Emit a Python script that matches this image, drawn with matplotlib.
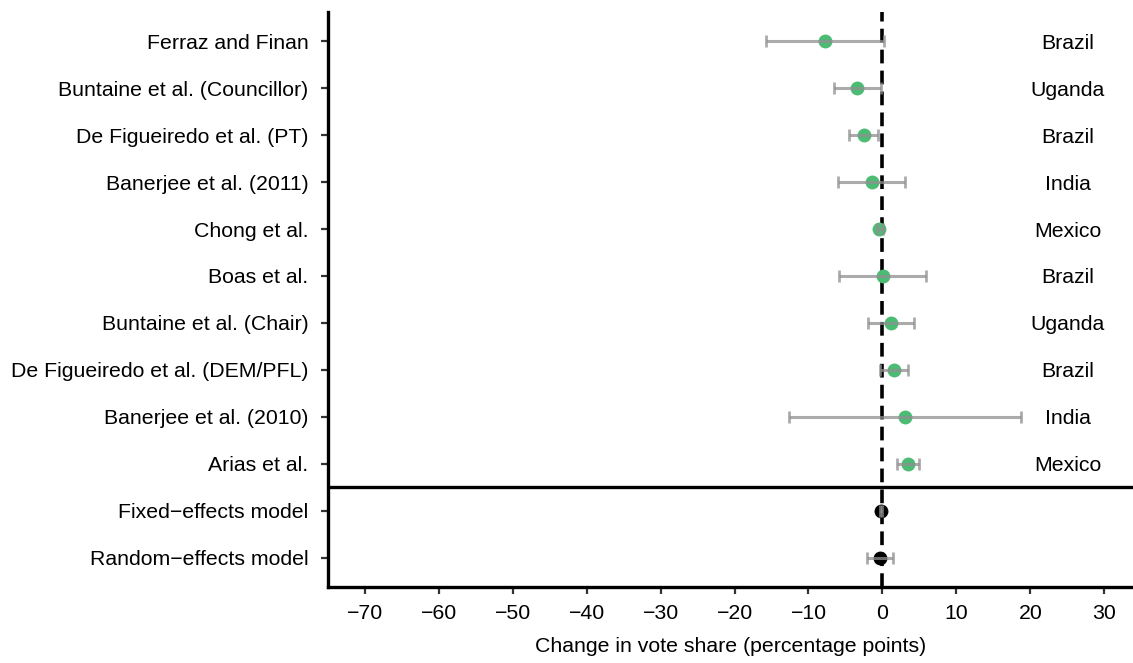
import matplotlib.pyplot as plt
import numpy as np

plt.rcParams['font.family'] = ['Liberation Sans', 'DejaVu Sans']

# study-level estimates (percentage points) with confidence bounds
studies = ['Ferraz and Finan', 'Buntaine et al. (Councillor)', 'De Figueiredo et al. (PT)',
           'Banerjee et al. (2011)', 'Chong et al.', 'Boas et al.', 'Buntaine et al. (Chair)',
           'De Figueiredo et al. (DEM/PFL)', 'Banerjee et al. (2010)', 'Arias et al.']
countries = ['Brazil', 'Uganda', 'Brazil', 'India', 'Mexico', 'Brazil', 'Uganda',
             'Brazil', 'India', 'Mexico']
est = [-7.75, -3.4, -2.55, -1.45, -0.4, 0.05, 1.15, 1.55, 3.05, 3.45]
lower = [-15.75, -6.5, -4.55, -6.0, -0.7, -5.9, -2.0, -0.3, -12.6, 2.0]
upper = [0.25, -0.25, -0.6, 3.05, 0.05, 5.95, 4.25, 3.4, 18.7, 4.9]

# pooled estimates
models = ['Fixed\u2212effects model', 'Random\u2212effects model']
model_est = [-0.15, -0.3]
model_lower = [-0.3, -2.1]
model_upper = [0.0, 1.5]

n = len(studies) + len(models)
ypos = np.arange(n, 0, -1)
y_st = ypos[:len(studies)]
y_md = ypos[len(studies):]

fig = plt.figure(figsize=(11.33, 6.63), dpi=100)
ax = fig.add_axes([0.2895, 0.1146, 0.7105, 0.8674])

ax.axvline(0, color='black', lw=2.6, ls=(0, (3.8, 2.0)), zorder=1)

est = np.array(est)
ax.plot(est, y_st, 'o', color='#4cbb74', ms=10, mec='none', zorder=2)
ax.errorbar(est, y_st, xerr=[est - np.array(lower), np.array(upper) - est], fmt='none',
            ecolor='#8f8f8f', alpha=0.75, elinewidth=2.2, capsize=4, capthick=2, zorder=3)

model_est = np.array(model_est)
ax.plot(model_est, y_md, 'o', color='black', ms=10, mec='none', zorder=2)
ax.errorbar(model_est, y_md,
            xerr=[model_est - np.array(model_lower), np.array(model_upper) - model_est],
            fmt='none', ecolor='#8f8f8f', alpha=0.75, elinewidth=2.2, capsize=4, capthick=2,
            zorder=3)

for y, c in zip(y_st, countries):
    ax.text(25.1, y, c, ha='center', va='center_baseline', fontsize=15.3)

# separator between studies and pooled models
ax.axhline(len(models) + 0.5, color='black', lw=2.4)

ax.set_xlim(-75, 33.9)
ax.set_ylim(0.38, n + 0.62)
ax.set_xticks(np.arange(-70, 31, 10))
ax.set_xticklabels([str(v).replace('-', '\u2212') for v in range(-70, 31, 10)])
ax.set_yticks(ypos)
ax.set_yticklabels(studies + models)
ax.set_xlabel('Change in vote share (percentage points)', fontsize=15.3, labelpad=10)

for s in ['top', 'right']:
    ax.spines[s].set_visible(False)
for s in ['left', 'bottom']:
    ax.spines[s].set_linewidth(2.4)
ax.tick_params(axis='both', labelsize=15.3, length=5, width=1.6, color='#333333')
ax.tick_params(axis='y', pad=9)
ax.tick_params(axis='x', pad=7)

fig.savefig('out.png', dpi=100)
